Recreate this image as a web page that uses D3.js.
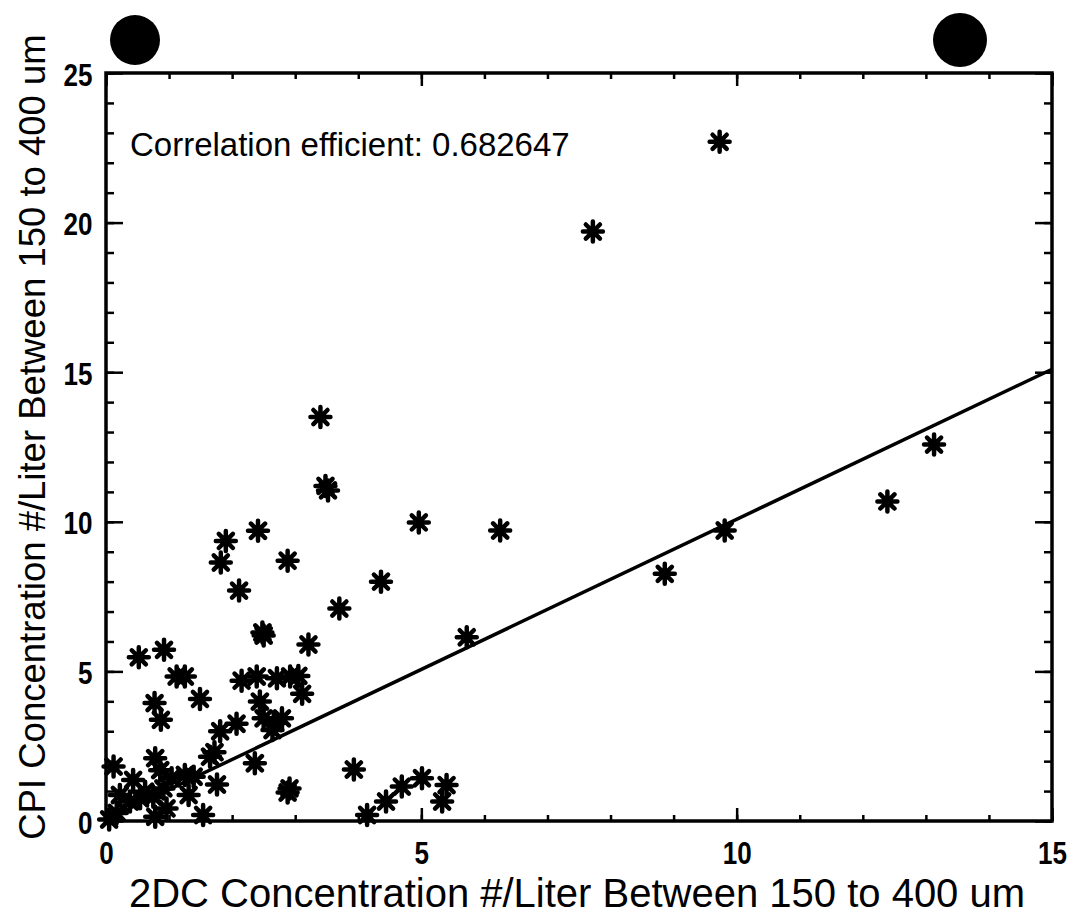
<!DOCTYPE html>
<html>
<head>
<meta charset="utf-8">
<script src="https://cdn.jsdelivr.net/npm/d3@7"></script>
<style>
  body { margin: 0; background: #fff; }
  svg { display: block; }
</style>
</head>
<body>
<svg id="chart" width="1074" height="923"></svg>
<script>
// values
const xValues = [9.73, 7.72, 3.40, 3.48, 3.52, 4.96, 2.41, 1.90, 1.82, 2.88, 4.36, 2.11, 3.70, 2.48, 2.50,
  3.21, 0.52, 0.92, 1.12, 1.25, 1.49, 0.77, 0.87, 2.15, 2.39, 2.44, 2.71, 2.92, 3.05, 3.11,
  2.50, 2.66, 2.79, 2.64, 1.81, 2.07, 1.65, 1.72, 1.76, 2.36, 2.91, 2.88, 3.93, 0.12, 0.78,
  0.43, 0.86, 1.04, 1.25, 1.39, 1.31, 0.91, 0.75, 0.22, 0.38, 0.54, 0.62, 0.17, 0.78, 1.54,
  0.96, 0.05, 5.72, 4.14, 4.44, 4.69, 5.01, 5.40, 5.33, 6.25, 8.86, 9.81, 12.39, 13.13];
const yValues = [22.7, 19.7, 13.5, 11.2, 11.05, 9.98, 9.7, 9.36, 8.64, 8.7, 8.0, 7.7, 7.1, 6.3, 6.2,
  5.9, 5.47, 5.72, 4.83, 4.83, 4.08, 3.94, 3.38, 4.69, 4.83, 3.99, 4.77, 4.83, 4.85, 4.25,
  3.43, 3.27, 3.43, 3.04, 3.0, 3.25, 2.15, 2.3, 1.22, 1.93, 1.09, 0.95, 1.72, 1.82, 2.1,
  1.37, 1.7, 1.43, 1.54, 1.48, 0.87, 1.09, 0.81, 0.87, 0.65, 0.76, 0.98, 0.27, 0.14, 0.2,
  0.42, 0.05, 6.14, 0.2, 0.65, 1.15, 1.43, 1.2, 0.65, 9.71, 8.26, 9.71, 10.68, 12.58];
const fitLine = [[0, 0.05], [15, 15.1]];
const xTicks = [0, 5, 10, 15];
const yTicks = [0, 5, 10, 15, 20, 25];
const xMinor = d3.range(0, 16, 1);
const yMinor = d3.range(0, 26, 1);
const corrText = "Correlation efficient: 0.682647";
const xTitle = "2DC Concentration #/Liter Between 150 to 400 um";
const yTitle = "CPI Concentration #/Liter Between 150 to 400 um";

const svg = d3.select("#chart");
const plotL = 106, plotR = 1052, plotT = 73, plotB = 821;

const x = d3.scaleLinear().domain([0, 15]).range([plotL, plotR]);
const y = d3.scaleLinear().domain([0, 25]).range([plotB, plotT]);

const tickFont = "'Liberation Sans', Arial, sans-serif";
const textFont = "'Liberation Sans', Arial, sans-serif";

// the two black dots along the top edge of the scan
svg.append("circle").attr("cx", 135).attr("cy", 40).attr("r", 25).attr("fill", "#000");
svg.append("circle").attr("cx", 960).attr("cy", 40).attr("r", 27).attr("fill", "#000");

function styleAxis(g) {
  g.select(".domain").remove();
  g.selectAll(".tick line").attr("stroke", "#000").attr("stroke-width", 2.5);
  g.selectAll("text")
    .attr("fill", "#000")
    .attr("font-family", tickFont)
    .attr("font-weight", "bold")
    .attr("font-size", 31)
    .attr("transform", "scale(0.84,1)");
}

// bottom axis, ticks pointing in
svg.append("g")
  .attr("transform", `translate(0,${plotB})`)
  .call(d3.axisBottom(x).tickValues(xMinor).tickSize(-6).tickFormat(""))
  .call(styleAxis);
svg.append("g")
  .attr("transform", `translate(0,${plotB})`)
  .call(d3.axisBottom(x).tickValues(xTicks).tickSize(-13).tickFormat(d3.format("d")))
  .call(styleAxis)
  .call(g => g.selectAll("text").attr("y", 43).attr("dy", null));

// top axis
svg.append("g")
  .attr("transform", `translate(0,${plotT})`)
  .call(d3.axisTop(x).tickValues(xMinor).tickSize(-6).tickFormat(""))
  .call(styleAxis);
svg.append("g")
  .attr("transform", `translate(0,${plotT})`)
  .call(d3.axisTop(x).tickValues(xTicks).tickSize(-13).tickFormat(""))
  .call(styleAxis);

// left axis
svg.append("g")
  .attr("transform", `translate(${plotL},0)`)
  .call(d3.axisLeft(y).tickValues(yMinor).tickSize(-8).tickFormat(""))
  .call(styleAxis);
svg.append("g")
  .attr("transform", `translate(${plotL},0)`)
  .call(d3.axisLeft(y).tickValues(yTicks).tickSize(-17).tickFormat(d3.format("d")))
  .call(styleAxis)
  .call(g => g.selectAll("text").attr("x", -16).attr("dy", null).attr("y", 12));

// right axis
svg.append("g")
  .attr("transform", `translate(${plotR},0)`)
  .call(d3.axisRight(y).tickValues(yMinor).tickSize(-8).tickFormat(""))
  .call(styleAxis);
svg.append("g")
  .attr("transform", `translate(${plotR},0)`)
  .call(d3.axisRight(y).tickValues(yTicks).tickSize(-17).tickFormat(""))
  .call(styleAxis);

// frame
svg.append("rect")
  .attr("x", plotL).attr("y", plotT)
  .attr("width", plotR - plotL).attr("height", plotB - plotT)
  .attr("fill", "none").attr("stroke", "#000").attr("stroke-width", 3.5);

// regression line
svg.append("path")
  .datum(fitLine)
  .attr("d", d3.line().x(d => x(d[0])).y(d => y(d[1])))
  .attr("fill", "none").attr("stroke", "#000").attr("stroke-width", 3.5);

// asterisk markers
const arm = 10;
const star = d3.path();
for (let k = 0; k < 4; k++) {
  const a = k * Math.PI / 4;
  star.moveTo(-arm * Math.sin(a), -arm * Math.cos(a));
  star.lineTo(arm * Math.sin(a), arm * Math.cos(a));
}
svg.append("g").selectAll("path")
  .data(xValues.map((v, i) => [v, yValues[i]]))
  .join("path")
  .attr("transform", d => `translate(${x(d[0])},${y(d[1])})`)
  .attr("d", star.toString())
  .attr("stroke", "#000").attr("stroke-width", 4.5).attr("stroke-linecap", "round")
  .attr("fill", "none");

// labels
svg.append("text")
  .attr("x", 130).attr("y", 156)
  .attr("font-family", textFont).attr("font-size", 33)
  .text(corrText);

svg.append("text")
  .attr("x", 577).attr("y", 907)
  .attr("text-anchor", "middle")
  .attr("font-family", textFont).attr("font-size", 40)
  .text(xTitle);

svg.append("text")
  .attr("transform", "translate(45,437) rotate(-90)")
  .attr("text-anchor", "middle")
  .attr("font-family", textFont).attr("font-size", 36.5)
  .text(yTitle);
</script>
</body>
</html>
